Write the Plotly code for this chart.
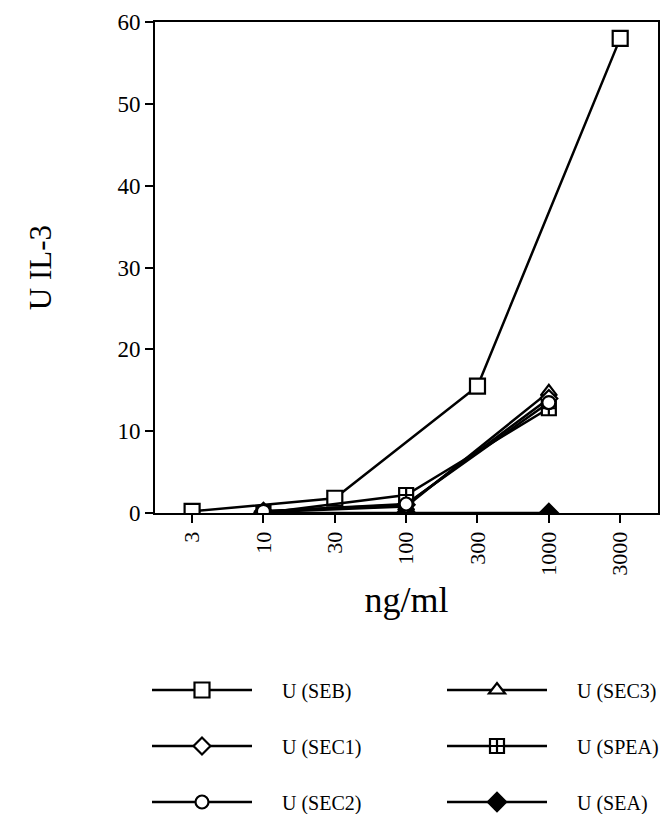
import plotly.graph_objects as go

doses = ["3", "10", "30", "100", "300", "1000", "3000"]

seb  = [0.2, None, 1.8, None, 15.5, None, 58.0]
sec1 = [None, 0.2, None, 1.0, None, 14.0, None]
sec2 = [None, 0.2, None, 1.1, None, 13.5, None]
sec3 = [None, 0.1, None, 0.8, None, 14.8, None]
spea = [None, 0.0, None, 2.2, None, 12.8, None]
sea  = [None, 0.0, None, 0.0, None, 0.0, None]

# name, values, marker symbol, marker size, fill, legend row, rank
series = [
    ("U (SEA)", sea, "diamond", 14, "black", "legend3", 6),
    ("U (SEB)", seb, "square", 15, "white", "legend", 1),
    ("U (SEC3)", sec3, "triangle-up", 14, "white", "legend", 2),
    ("U (SEC1)", sec1, "diamond", 13, "white", "legend2", 3),
    ("U (SPEA)", spea, "square-cross", 14, "white", "legend2", 4),
    ("U (SEC2)", sec2, "circle", 13, "white", "legend3", 5),
]

fig = go.Figure()
for name, vals, sym, size, fill, leg, rank in series:
    fig.add_trace(go.Scatter(
        x=doses, y=vals, name="\u00a0" * 5 + name, mode="lines+markers",
        connectgaps=True, legend=leg, legendrank=rank,
        line=dict(color="black", width=2.5),
        marker=dict(symbol=sym, size=size, color=fill,
                    line=dict(color="black", width=2.2)),
    ))

def legend_row(ypix):
    return dict(
        orientation="h", x=(147 - 155) / 503, y=(513 - ypix) / 491,
        xanchor="left", yanchor="middle",
        entrywidth=180, entrywidthmode="pixels",
        itemwidth=100,
        font=dict(size=20, family="Liberation Serif", color="black"),
        bgcolor="rgba(0,0,0,0)",
    )

fig.update_layout(
    width=661, height=814,
    margin=dict(l=155, r=3, t=22, b=301, autoexpand=False),
    plot_bgcolor="white", paper_bgcolor="white",
    font=dict(family="Liberation Serif", color="black", size=16),
    showlegend=True,
    legend=legend_row(690),
    legend2=legend_row(746),
    legend3=legend_row(802),
    xaxis=dict(
        type="category", categoryorder="array", categoryarray=doses,
        range=[-0.52, 6.53],
        tickangle=-90, ticks="outside", ticklen=8, tickwidth=2, tickcolor="black",
        showline=True, linecolor="black", linewidth=2, mirror=True,
        showgrid=False, zeroline=False,
        tickfont=dict(size=22),
        title=dict(text="ng/ml", font=dict(size=36), standoff=12),
    ),
    yaxis=dict(
        range=[0, 60], dtick=10,
        ticks="outside", ticklen=8, tickwidth=2, tickcolor="black",
        showline=True, linecolor="black", linewidth=2, mirror=True,
        showgrid=False, zeroline=False,
        tickfont=dict(size=23),
        title=dict(text="U IL-3", font=dict(size=31), standoff=57),
    ),
)

fig.write_html("out.html")
